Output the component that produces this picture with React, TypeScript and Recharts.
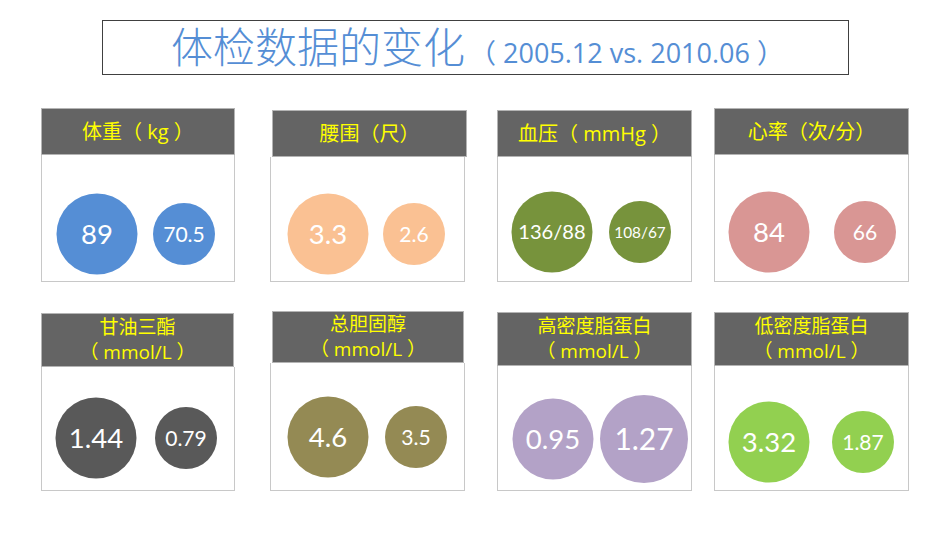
import React from "react";
import { ScatterChart, Scatter, XAxis, YAxis, ZAxis } from "recharts";

// header text for each panel (second line optional)
const titles = [
  ["体重（ kg ）"],
  ["腰围（尺）"],
  ["血压（ mmHg ）"],
  ["心率（次/分）"],
  ["甘油三酯", "（ mmol/L ）"],
  ["总胆固醇", "（ mmol/L ）"],
  ["高密度脂蛋白", "（ mmol/L ）"],
  ["低密度脂蛋白", "（ mmol/L ）"],
];

// 2005.12 vs 2010.06 values (blood pressure uses systolic for sizing)
const values2005 = [89, 3.3, 136, 84, 1.44, 4.6, 0.95, 3.32];
const values2010 = [70.5, 2.6, 108, 66, 0.79, 3.5, 1.27, 1.87];
const labels2005 = ["89", "3.3", "136/88", "84", "1.44", "4.6", "0.95", "3.32"];
const labels2010 = ["70.5", "2.6", "108/67", "66", "0.79", "3.5", "1.27", "1.87"];

const COLORS = ["#558ed5", "#fac193", "#77933c", "#d99694", "#595959", "#948a54", "#b3a2c7", "#92d050"];

// placement of each panel on the page (header, box, circle centres)
const SMALL_BIG: [number, number] = [3019, 5153]; // circle areas: r≈31, r≈40.5
const layout = [
  { hx: 41, hy: 108, hw: 194, hh: 47, bx: 41, by: 155, bw: 194, bh: 127, c1: 97, c2: 184, cy: 234, z: SMALL_BIG },
  { hx: 272, hy: 110, hw: 195, hh: 47, bx: 270, by: 157, bw: 195, bh: 125, c1: 328, c2: 414, cy: 234, z: SMALL_BIG },
  { hx: 497, hy: 110, hw: 195, hh: 47, bx: 497, by: 157, bw: 195, bh: 125, c1: 552, c2: 640, cy: 232, z: SMALL_BIG },
  { hx: 714, hy: 108, hw: 195, hh: 47, bx: 714, by: 155, bw: 195, bh: 127, c1: 769, c2: 865, cy: 232, z: SMALL_BIG },
  { hx: 41, hy: 313, hw: 193, hh: 54, bx: 41, by: 367, bw: 194, bh: 124, c1: 96, c2: 186, cy: 438, z: SMALL_BIG },
  { hx: 272, hy: 311, hw: 192, hh: 52, bx: 270, by: 363, bw: 195, bh: 128, c1: 328, c2: 416, cy: 437, z: SMALL_BIG },
  { hx: 497, hy: 312, hw: 195, hh: 54, bx: 497, by: 366, bw: 195, bh: 125, c1: 553, c2: 644, cy: 439, z: [5153, 6082] as [number, number] },
  { hx: 714, hy: 312, hw: 195, hh: 54, bx: 714, by: 366, bw: 195, bh: 125, c1: 769, c2: 863, cy: 442, z: SMALL_BIG },
];

const Bubble = (props: any) => {
  const { cx, cy, width, size, payload, color } = props;
  const r = width ? width / 2 : Math.sqrt(size / Math.PI);
  const label: string = payload.label;
  let fs = r * 0.68;
  if (label.length > 4) fs *= 0.73;
  return (
    <g>
      <circle cx={cx} cy={cy} r={r} fill={color} />
      <text x={cx} y={cy} dy="0.36em" textAnchor="middle" fill="#ffffff" fontSize={fs} fontFamily="Lato">
        {label}
      </text>
    </g>
  );
};

function Panel({ i }: { i: number }) {
  const L = layout[i];
  const data = [
    { x: 0, y: 0, z: values2005[i], label: labels2005[i] },
    { x: 1, y: 0, z: values2010[i], label: labels2010[i] },
  ];
  const zMin = Math.min(values2005[i], values2010[i]);
  const zMax = Math.max(values2005[i], values2010[i]);
  const top = (L.cy - L.by) * 2 - L.bh;
  const twoLines = titles[i].length > 1;
  return (
    <>
      <div
        style={{
          position: "absolute", left: L.hx, top: L.hy, width: L.hw, height: L.hh,
          background: "#646464", border: "1px solid #b4b4b4", boxSizing: "border-box",
          display: "flex", flexDirection: "column", justifyContent: "center", alignItems: "center",
          color: "#ffff00", fontFamily: "'Open Sans', 'Noto Sans CJK SC'",
          fontSize: twoLines ? 19 : 20, lineHeight: twoLines ? "25px" : "24px",
        }}
      >
        {titles[i].map((t) => (
          <div key={t}>{t}</div>
        ))}
      </div>
      <div
        style={{
          position: "absolute", left: L.bx, top: L.by, width: L.bw, height: L.bh,
          border: "1px solid #c8c8c8", borderTop: "none", boxSizing: "border-box",
        }}
      />
      <div style={{ position: "absolute", left: L.bx, top: L.by }}>
        <ScatterChart
          width={L.bw}
          height={L.bh}
          margin={{ top: Math.max(top, 0), bottom: Math.max(-top, 0), left: L.c1 - L.bx, right: L.bx + L.bw - L.c2 }}
        >
          <XAxis type="number" dataKey="x" domain={[0, 1]} hide />
          <YAxis type="number" dataKey="y" domain={[-1, 1]} hide />
          <ZAxis type="number" dataKey="z" domain={[zMin, zMax]} range={L.z} />
          <Scatter
            data={data}
            isAnimationActive={false}
            shape={(p: any) => <Bubble {...p} color={COLORS[i]} />}
          />
        </ScatterChart>
      </div>
    </>
  );
}

export default function App() {
  return (
    <div style={{ position: "absolute", left: 0, top: 0, width: 950, height: 535, background: "#ffffff", overflow: "hidden" }}>
      <div
        style={{
          position: "absolute", left: 102, top: 20, width: 747, height: 55,
          border: "1px solid #404040", boxSizing: "border-box",
          paddingLeft: 68, display: "flex", alignItems: "baseline", paddingTop: 3,
          color: "#558ed5", fontFamily: "'Open Sans', 'Noto Sans CJK SC'",
        }}
      >
        <span style={{ fontSize: 42, lineHeight: "46px", fontWeight: 300 }}>体检数据的变化</span>
        <span style={{ fontSize: 27, marginLeft: 4 }}>（ 2005.12 vs. 2010.06 ）</span>
      </div>
      {layout.map((_, i) => (
        <Panel key={i} i={i} />
      ))}
    </div>
  );
}
